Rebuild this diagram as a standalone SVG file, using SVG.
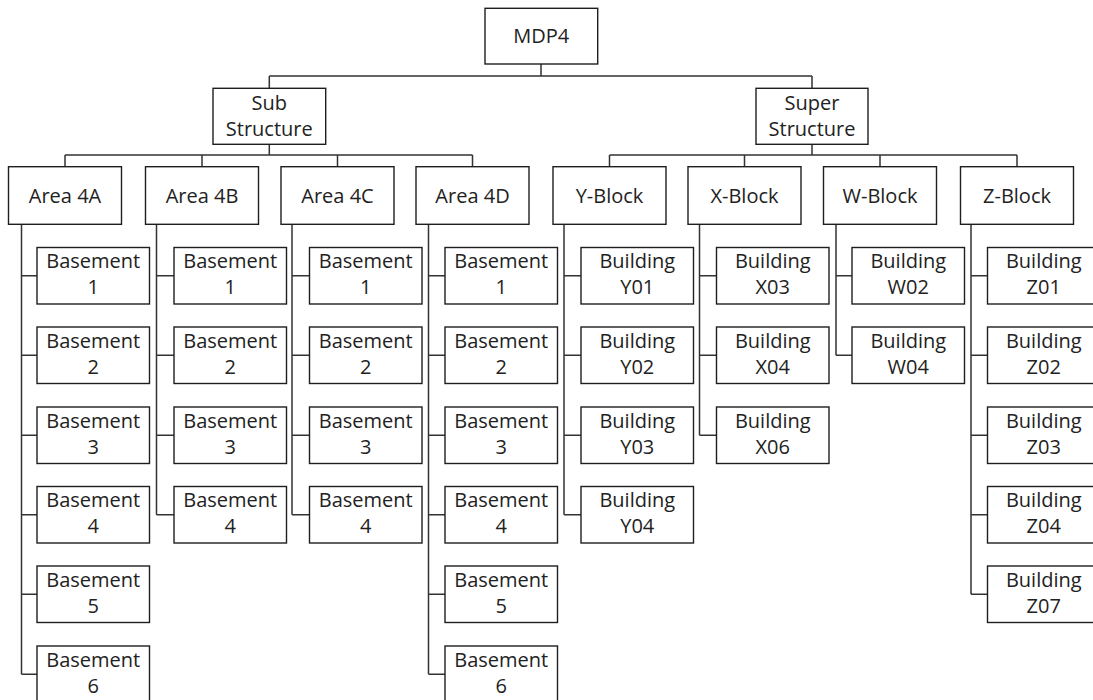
<svg xmlns="http://www.w3.org/2000/svg" width="1093" height="700" viewBox="0 0 1093 700">
<style>
.b{fill:#fff;stroke:#1e1e1e;stroke-width:1.4}
.t{font-family:"Open Sans","Noto Sans","Liberation Sans",sans-serif;font-size:20px;fill:#222;text-anchor:middle}
.c{fill:none;stroke:#333;stroke-width:1.5}
</style>
<rect width="1093" height="700" fill="#fff"/>
<g id="connectors" class="c">
<path d="M541 64V76M269.3 76H812M269.3 76V88.3M812 76V88.3"/>
<path d="M269.3 144.3V155M65 155H472.5M65 155V166.7M202 155V166.7M337.5 155V166.7M472.5 155V166.7"/>
<path d="M812 144.3V155M609.5 155H1017M609.5 155V166.7M744.5 155V166.7M880 155V166.7M1017 155V166.7"/>
<path d="M21.5 224.3V674.25M21.5 275.75H37M21.5 355.25H37M21.5 435.25H37M21.5 514.75H37M21.5 594.25H37M21.5 674.25H37"/>
<path d="M156.5 224.3V514.75M156.5 275.75H174M156.5 355.25H174M156.5 435.25H174M156.5 514.75H174"/>
<path d="M292 224.3V514.75M292 275.75H309.5M292 355.25H309.5M292 435.25H309.5M292 514.75H309.5"/>
<path d="M428.5 224.3V674.25M428.5 275.75H445M428.5 355.25H445M428.5 435.25H445M428.5 514.75H445M428.5 594.25H445M428.5 674.25H445"/>
<path d="M564 224.3V514.75M564 275.75H581M564 355.25H581M564 435.25H581M564 514.75H581"/>
<path d="M699.5 224.3V435.25M699.5 275.75H716.5M699.5 355.25H716.5M699.5 435.25H716.5"/>
<path d="M836 224.3V355.25M836 275.75H852M836 355.25H852"/>
<path d="M971 224.3V594.25M971 275.75H987.5M971 355.25H987.5M971 435.25H987.5M971 514.75H987.5M971 594.25H987.5"/>
</g>
<g id="mdp4"><rect class="b" x="485" y="8.3" width="112.7" height="55.7"/><text class="t" x="541.3" y="43">MDP4</text></g>
<g id="sub-structure"><rect class="b" x="213" y="88.3" width="112.7" height="56"/><text class="t" x="269.3" y="110">Sub</text><text class="t" x="269.3" y="136">Structure</text></g>
<g id="super-structure"><rect class="b" x="756" y="88.3" width="112" height="56"/><text class="t" x="812" y="110">Super</text><text class="t" x="812" y="136">Structure</text></g>

<g id="area-4a"><rect class="b" x="8.5" y="166.7" width="113" height="57.6"/><text class="t" x="65" y="202.5">Area 4A</text></g>
<g id="area-4b"><rect class="b" x="145.5" y="166.7" width="113" height="57.6"/><text class="t" x="202" y="202.5">Area 4B</text></g>
<g id="area-4c"><rect class="b" x="281" y="166.7" width="113" height="57.6"/><text class="t" x="337.5" y="202.5">Area 4C</text></g>
<g id="area-4d"><rect class="b" x="416" y="166.7" width="113" height="57.6"/><text class="t" x="472.5" y="202.5">Area 4D</text></g>
<g id="y-block"><rect class="b" x="553" y="166.7" width="113" height="57.6"/><text class="t" x="609.5" y="202.5">Y-Block</text></g>
<g id="x-block"><rect class="b" x="688" y="166.7" width="113" height="57.6"/><text class="t" x="744.5" y="202.5">X-Block</text></g>
<g id="w-block"><rect class="b" x="823.5" y="166.7" width="113" height="57.6"/><text class="t" x="880" y="202.5">W-Block</text></g>
<g id="z-block"><rect class="b" x="960.5" y="166.7" width="113" height="57.6"/><text class="t" x="1017" y="202.5">Z-Block</text></g>

<g id="a-b1"><rect class="b" x="37" y="247.5" width="112.5" height="56.5"/><text class="t" x="93.25" y="268">Basement</text><text class="t" x="93.25" y="294">1</text></g>
<g id="a-b2"><rect class="b" x="37" y="327" width="112.5" height="56.5"/><text class="t" x="93.25" y="347.5">Basement</text><text class="t" x="93.25" y="373.5">2</text></g>
<g id="a-b3"><rect class="b" x="37" y="407" width="112.5" height="56.5"/><text class="t" x="93.25" y="427.5">Basement</text><text class="t" x="93.25" y="453.5">3</text></g>
<g id="a-b4"><rect class="b" x="37" y="486.5" width="112.5" height="56.5"/><text class="t" x="93.25" y="507">Basement</text><text class="t" x="93.25" y="533">4</text></g>
<g id="a-b5"><rect class="b" x="37" y="566" width="112.5" height="56.5"/><text class="t" x="93.25" y="586.5">Basement</text><text class="t" x="93.25" y="612.5">5</text></g>
<g id="a-b6"><rect class="b" x="37" y="646" width="112.5" height="56.5"/><text class="t" x="93.25" y="666.5">Basement</text><text class="t" x="93.25" y="692.5">6</text></g>

<g id="b-b1"><rect class="b" x="174" y="247.5" width="112.5" height="56.5"/><text class="t" x="230.25" y="268">Basement</text><text class="t" x="230.25" y="294">1</text></g>
<g id="b-b2"><rect class="b" x="174" y="327" width="112.5" height="56.5"/><text class="t" x="230.25" y="347.5">Basement</text><text class="t" x="230.25" y="373.5">2</text></g>
<g id="b-b3"><rect class="b" x="174" y="407" width="112.5" height="56.5"/><text class="t" x="230.25" y="427.5">Basement</text><text class="t" x="230.25" y="453.5">3</text></g>
<g id="b-b4"><rect class="b" x="174" y="486.5" width="112.5" height="56.5"/><text class="t" x="230.25" y="507">Basement</text><text class="t" x="230.25" y="533">4</text></g>

<g id="c-b1"><rect class="b" x="309.5" y="247.5" width="112.5" height="56.5"/><text class="t" x="365.75" y="268">Basement</text><text class="t" x="365.75" y="294">1</text></g>
<g id="c-b2"><rect class="b" x="309.5" y="327" width="112.5" height="56.5"/><text class="t" x="365.75" y="347.5">Basement</text><text class="t" x="365.75" y="373.5">2</text></g>
<g id="c-b3"><rect class="b" x="309.5" y="407" width="112.5" height="56.5"/><text class="t" x="365.75" y="427.5">Basement</text><text class="t" x="365.75" y="453.5">3</text></g>
<g id="c-b4"><rect class="b" x="309.5" y="486.5" width="112.5" height="56.5"/><text class="t" x="365.75" y="507">Basement</text><text class="t" x="365.75" y="533">4</text></g>

<g id="d-b1"><rect class="b" x="445" y="247.5" width="112.5" height="56.5"/><text class="t" x="501.25" y="268">Basement</text><text class="t" x="501.25" y="294">1</text></g>
<g id="d-b2"><rect class="b" x="445" y="327" width="112.5" height="56.5"/><text class="t" x="501.25" y="347.5">Basement</text><text class="t" x="501.25" y="373.5">2</text></g>
<g id="d-b3"><rect class="b" x="445" y="407" width="112.5" height="56.5"/><text class="t" x="501.25" y="427.5">Basement</text><text class="t" x="501.25" y="453.5">3</text></g>
<g id="d-b4"><rect class="b" x="445" y="486.5" width="112.5" height="56.5"/><text class="t" x="501.25" y="507">Basement</text><text class="t" x="501.25" y="533">4</text></g>
<g id="d-b5"><rect class="b" x="445" y="566" width="112.5" height="56.5"/><text class="t" x="501.25" y="586.5">Basement</text><text class="t" x="501.25" y="612.5">5</text></g>
<g id="d-b6"><rect class="b" x="445" y="646" width="112.5" height="56.5"/><text class="t" x="501.25" y="666.5">Basement</text><text class="t" x="501.25" y="692.5">6</text></g>

<g id="y01"><rect class="b" x="581" y="247.5" width="112.5" height="56.5"/><text class="t" x="637.25" y="268">Building</text><text class="t" x="637.25" y="294">Y01</text></g>
<g id="y02"><rect class="b" x="581" y="327" width="112.5" height="56.5"/><text class="t" x="637.25" y="347.5">Building</text><text class="t" x="637.25" y="373.5">Y02</text></g>
<g id="y03"><rect class="b" x="581" y="407" width="112.5" height="56.5"/><text class="t" x="637.25" y="427.5">Building</text><text class="t" x="637.25" y="453.5">Y03</text></g>
<g id="y04"><rect class="b" x="581" y="486.5" width="112.5" height="56.5"/><text class="t" x="637.25" y="507">Building</text><text class="t" x="637.25" y="533">Y04</text></g>

<g id="x03"><rect class="b" x="716.5" y="247.5" width="112.5" height="56.5"/><text class="t" x="772.75" y="268">Building</text><text class="t" x="772.75" y="294">X03</text></g>
<g id="x04"><rect class="b" x="716.5" y="327" width="112.5" height="56.5"/><text class="t" x="772.75" y="347.5">Building</text><text class="t" x="772.75" y="373.5">X04</text></g>
<g id="x06"><rect class="b" x="716.5" y="407" width="112.5" height="56.5"/><text class="t" x="772.75" y="427.5">Building</text><text class="t" x="772.75" y="453.5">X06</text></g>

<g id="w02"><rect class="b" x="852" y="247.5" width="112.5" height="56.5"/><text class="t" x="908.25" y="268">Building</text><text class="t" x="908.25" y="294">W02</text></g>
<g id="w04"><rect class="b" x="852" y="327" width="112.5" height="56.5"/><text class="t" x="908.25" y="347.5">Building</text><text class="t" x="908.25" y="373.5">W04</text></g>

<g id="z01"><rect class="b" x="987.5" y="247.5" width="112.5" height="56.5"/><text class="t" x="1043.75" y="268">Building</text><text class="t" x="1043.75" y="294">Z01</text></g>
<g id="z02"><rect class="b" x="987.5" y="327" width="112.5" height="56.5"/><text class="t" x="1043.75" y="347.5">Building</text><text class="t" x="1043.75" y="373.5">Z02</text></g>
<g id="z03"><rect class="b" x="987.5" y="407" width="112.5" height="56.5"/><text class="t" x="1043.75" y="427.5">Building</text><text class="t" x="1043.75" y="453.5">Z03</text></g>
<g id="z04"><rect class="b" x="987.5" y="486.5" width="112.5" height="56.5"/><text class="t" x="1043.75" y="507">Building</text><text class="t" x="1043.75" y="533">Z04</text></g>
<g id="z07"><rect class="b" x="987.5" y="566" width="112.5" height="56.5"/><text class="t" x="1043.75" y="586.5">Building</text><text class="t" x="1043.75" y="612.5">Z07</text></g>
</svg>
